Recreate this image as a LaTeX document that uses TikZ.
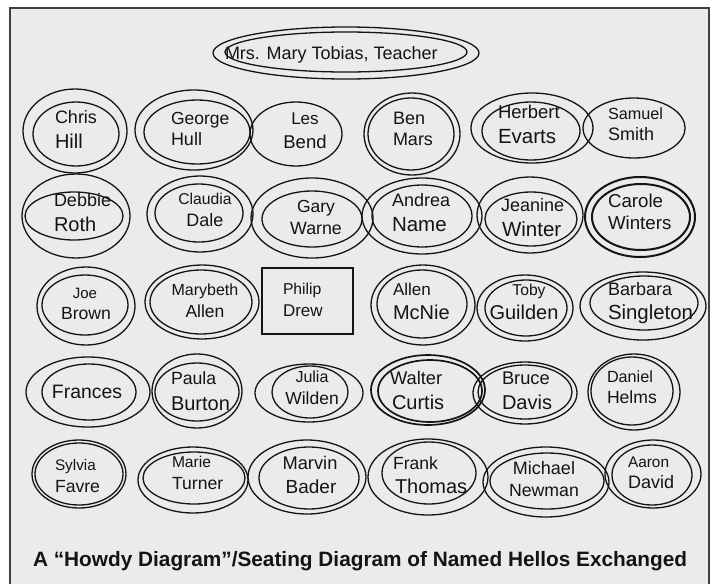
\documentclass[tikz,border=0pt]{standalone}
\usepackage{fontspec}
\setmainfont{Liberation Sans}
\definecolor{bgc}{HTML}{EBEBEB}
\definecolor{ink}{HTML}{141414}
\tikzset{
  ringline/.style={line width=1.3pt, draw=ink},
  thickring/.style={line width=2pt, draw=ink},
  nm/.style={inner sep=0pt, outer sep=0pt, text=ink},
  frame/.style={fill=bgc, draw=black!75, line width=1.4pt},
}
\newcommand\nm[6]{\node[nm,anchor=#2,font=\fontsize{#5pt}{#5pt}\selectfont] (#1) at (#3,#4) {#6};}
\newcommand\ring[5][]{\draw[ringline,#1] (#2,#3) ellipse [x radius=#4pt, y radius=#5pt];}
\begin{document}
\begin{tikzpicture}[x=1pt,y=-1pt]
\useasboundingbox (0,0) rectangle (713,584);
\fill[white] (0,0) rectangle (713,584);
\begin{scope}
\clip (0,0) rectangle (713,584);
\draw[frame] (10,8) rectangle (709,594);
\end{scope}

% teacher
\ring{346}{53}{133}{26}
\ring{346}{52}{121}{20}
\nm{teacher}{base west}{225}{59}{18}{Mrs. Mary Tobias, Teacher}

% row 1
\ring{75}{131}{52}{42}
\ring{76}{134}{43}{32}
\nm{chrisA}{base west}{55}{123}{18}{Chris}
\nm{chrisB}{base west}{55}{148}{20}{Hill}

\ring{194}{130}{59}{40}
\ring{197}{132}{53}{32}
\nm{georgeA}{base west}{171}{124}{17.5}{George}
\nm{georgeB}{base west}{171}{145}{18}{Hull}

\ring{296}{134}{46}{32}
\nm{lesA}{base}{305}{124}{17}{Les}
\nm{lesB}{base}{305}{148}{18.5}{Bend}

\ring{412}{134}{48}{41}
\ring{411}{134}{43}{36}
\nm{benA}{base west}{393}{124}{18}{Ben}
\nm{benB}{base west}{393}{145}{18}{Mars}

\ring{532}{128}{61}{35}
\ring{531}{131}{49}{29}
\nm{herbertA}{base west}{498}{118}{18.5}{Herbert}
\nm{herbertB}{base west}{498}{143}{20.5}{Evarts}

\ring{634}{128}{51}{30}
\nm{samuelA}{base west}{608}{119}{16.2}{Samuel}
\nm{samuelB}{base west}{608}{140}{18}{Smith}

% row 2
\ring{76}{216}{54}{42}
\ring{74}{216}{49}{24}
\nm{debbieA}{base west}{54}{206}{18}{Debbie}
\nm{debbieB}{base west}{54}{231}{20}{Roth}

\ring{200}{214}{53}{38}
\ring{199}{213}{44}{29}
\nm{claudiaA}{base}{205}{204}{15.7}{Claudia}
\nm{claudiaB}{base}{205}{226}{18}{Dale}

\ring{312}{218}{61}{40}
\ring{312}{219}{50}{28}
\nm{garyA}{base}{316}{212}{17.5}{Gary}
\nm{garyB}{base}{316}{234}{17.8}{Warne}

\ring{422}{216}{60}{38}
\ring{422}{216}{50}{31}
\nm{andreaA}{base west}{392}{206}{18}{Andrea}
\nm{andreaB}{base west}{392}{231}{20.5}{Name}

\ring{530}{215}{53}{38}
\ring{531}{219}{46}{27}
\nm{jeanineA}{base west}{501}{211}{18}{Jeanine}
\nm{jeanineB}{base west}{502}{236}{20.5}{Winter}

\ring[thickring]{640}{217}{55}{40}
\ring[thickring]{641}{217}{49}{33}
\nm{caroleA}{base west}{608}{207}{18.7}{Carole}
\nm{caroleB}{base west}{608}{229}{18.7}{Winters}

% row 3
\ring{86}{306}{49}{39}
\ring{85}{305}{43}{30}
\nm{joeA}{base}{85}{298}{15}{Joe}
\nm{joeB}{base}{86}{319}{17.6}{Brown}

\ring{202}{302}{57}{37}
\ring{201}{302}{51}{32}
\nm{marybethA}{base}{205}{295}{16}{Marybeth}
\nm{marybethB}{base}{205}{317}{17.5}{Allen}

\draw[thickring] (262,268) rectangle (353,334);
\node[inner sep=0pt] (philipbox) at (307.5,301) {};
\nm{philipA}{base west}{283}{294}{15.7}{Philip}
\nm{philipB}{base west}{283}{316}{17}{Drew}

\ring{423}{305}{52}{40}
\ring{422}{304}{45}{34}
\nm{allenA}{base west}{393}{295}{17}{Allen}
\nm{allenB}{base west}{393}{319}{20}{McNie}

\ring{525}{308}{48}{33}
\ring{526}{308}{41}{28}
\nm{tobyA}{base}{529}{295}{15.7}{Toby}
\nm{tobyB}{base}{524}{319}{20}{Guilden}

\ring{643}{306}{63}{34}
\ring{644}{303}{54}{27}
\nm{barbaraA}{base west}{608}{295}{18}{Barbara}
\nm{barbaraB}{base west}{608}{319}{20.4}{Singleton}

% row 4
\ring{88}{392}{62}{35}
\ring{89}{392}{47}{28}
\nm{frances}{base}{87}{398}{19.4}{Frances}

\ring{197}{391}{45}{37}
\ring{197}{392}{42}{29}
\nm{paulaA}{base west}{171}{384}{17.7}{Paula}
\nm{paulaB}{base west}{171}{410}{20}{Burton}

\ring{309}{393}{54}{29}
\ring{310}{392}{38}{26}
\nm{juliaA}{base}{312}{382}{16}{Julia}
\nm{juliaB}{base}{312}{404}{17.5}{Wilden}

\ring[line width=1.7pt]{428}{390}{57}{35}
\ring[line width=1.7pt]{430}{391}{52}{31}
\nm{walterA}{base west}{390}{384}{18.3}{Walter}
\nm{walterB}{base west}{392}{409}{20}{Curtis}

\ring{525}{393}{52}{31}
\ring{525}{392}{47}{27}
\nm{bruceA}{base west}{502}{384}{18.3}{Bruce}
\nm{bruceB}{base west}{502}{409}{20}{Davis}

\ring{634}{392}{46}{38}
\ring{632}{391}{41}{34}
\nm{danielA}{base west}{607}{382}{16.2}{Daniel}
\nm{danielB}{base west}{607}{403}{17.6}{Helms}

% row 5
\ring{79}{474}{47}{34}
\ring{79}{474}{44}{31}
\nm{sylviaA}{base west}{55}{470}{15.3}{Sylvia}
\nm{sylviaB}{base west}{55}{492}{17.6}{Favre}

\ring{193}{480}{55}{33}
\ring{194}{478}{51}{26}
\nm{marieA}{base west}{172}{467}{15.6}{Marie}
\nm{marieB}{base west}{172}{489}{17.6}{Turner}

\ring{307}{477}{59}{37}
\ring{309}{478}{50}{31}
\nm{marvinA}{base}{310}{469}{18.3}{Marvin}
\nm{marvinB}{base}{311}{493}{19}{Bader}

\ring{428}{477}{60}{38}
\ring{429}{473}{47}{31}
\nm{frankA}{base west}{393}{469}{17.6}{Frank}
\nm{frankB}{base west}{395}{493}{20}{Thomas}

\ring{546}{482}{63}{35}
\ring{547}{481}{57}{28}
\nm{michaelA}{base}{544}{474}{18}{Michael}
\nm{michaelB}{base}{544}{496}{17.7}{Newman}

\ring{653}{474}{48}{34}
\ring{652}{475}{40}{30}
\nm{aaronA}{base west}{628}{467}{15.4}{Aaron}
\nm{aaronB}{base west}{628}{488}{18}{David}

% caption
\node[nm,anchor=base west,font=\bfseries\fontsize{20.8pt}{20.8pt}\selectfont] (caption) at (33,566) {A “Howdy Diagram”/Seating Diagram of Named Hellos Exchanged};
\end{tikzpicture}
\end{document}
